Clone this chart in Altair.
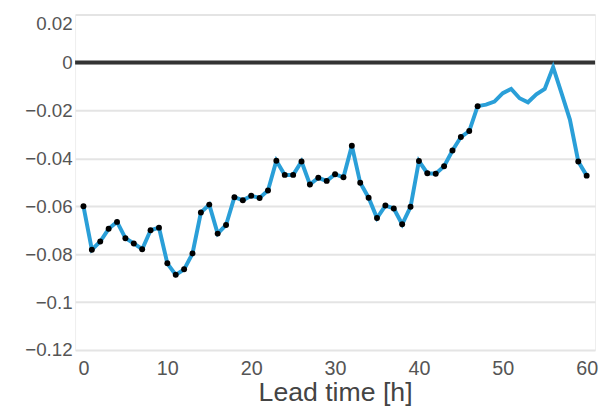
import altair as alt
import pandas as pd

hours = list(range(0, 61))
values = [
    -0.0600, -0.0781, -0.0747, -0.0694, -0.0665, -0.0733, -0.0755, -0.0779, -0.0700, -0.0689,
    -0.0838, -0.0886, -0.0863, -0.0797, -0.0626, -0.0593, -0.0714, -0.0678, -0.0562, -0.0575,
    -0.0556, -0.0565, -0.0534, -0.0410, -0.0469, -0.0469, -0.0413, -0.0509, -0.0481, -0.0494,
    -0.0466, -0.0479, -0.0347, -0.0502, -0.0564, -0.0649, -0.0597, -0.0609, -0.0675, -0.0602,
    -0.0411, -0.0462, -0.0464, -0.0433, -0.0367, -0.0311, -0.0286, -0.0182, -0.0176, -0.0163,
    -0.0128, -0.0110, -0.0149, -0.0166, -0.0133, -0.0110, -0.0019, -0.0128, -0.0238, -0.0413,
    -0.0472,
]
marked = [True] * 48 + [False] * 11 + [True, True]

y_ticks = [0.02, 0.0, -0.02, -0.04, -0.06, -0.08, -0.1, -0.12]
x_ticks = [0, 10, 20, 30, 40, 50, 60]
zero_level = [0.0]

df = pd.DataFrame({"hour": hours, "value": values, "marked": marked})
df_zero = pd.DataFrame({"y": zero_level})

x_scale = alt.Scale(domain=[-1, 61], nice=False, zero=False)
y_scale = alt.Scale(domain=[-0.1200001, 0.0200001], nice=False, zero=False)

x_enc = alt.X(
    "hour:Q",
    scale=x_scale,
    axis=alt.Axis(
        values=x_ticks,
        title="Lead time [h]",
        grid=False,
        domain=False,
        ticks=False,
        labelFontSize=20,
        labelColor="#555555",
        labelPadding=9,
        labelFont="Liberation Sans",
        titleFont="Liberation Sans",
        titleFontSize=27,
        titleFontWeight="normal",
        titleColor="#444444",
        titleBaseline="alphabetic",
        titleY=51,
    ),
)
y_enc = alt.Y(
    "value:Q",
    scale=y_scale,
    axis=alt.Axis(
        values=y_ticks,
        format="~g",
        title=None,
        grid=True,
        gridColor="#e4e4e4",
        gridWidth=2,
        domain=False,
        ticks=False,
        labelFontSize=19,
        labelColor="#555555",
        labelPadding=3,
        labelFont="Liberation Sans",
        labelOverlap=False,
        labelBaseline={"condition": {"test": "datum.value > 0.015", "value": "top"}, "value": "middle"},
    ),
)

line = alt.Chart(df).mark_line(color="#2a9fd8", strokeWidth=4).encode(x=x_enc, y=y_enc)
points = (
    alt.Chart(df)
    .transform_filter("datum.marked")
    .mark_circle(color="black", opacity=1, size=36)
    .encode(x="hour:Q", y="value:Q")
)
zero = (
    alt.Chart(df_zero)
    .mark_rule(color="#333333", strokeWidth=4)
    .encode(y="y:Q")
)

chart = (
    alt.layer(zero, line, points)
    .properties(
        width=527,
        height=340,
        autosize=alt.AutoSizeParams(type="none"),
        padding={"left": 68, "top": 4, "right": 4, "bottom": 55},
    )
    .configure_view(stroke="#eeeeee", strokeWidth=1)
)

chart.save("out.html", embed_options={"renderer": "svg", "actions": False})
